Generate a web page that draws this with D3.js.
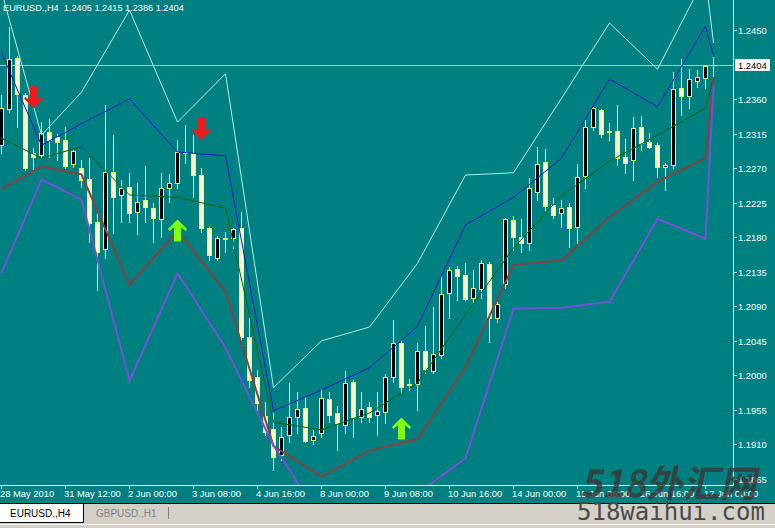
<!DOCTYPE html>
<html><head><meta charset="utf-8">
<script src="https://cdn.jsdelivr.net/npm/d3@7"></script>
<style>
html,body{margin:0;padding:0;background:#008080;overflow:hidden;}
svg{display:block;}
text{font-family:"Liberation Sans",Arial,sans-serif;}
</style></head><body>
<svg id="c" width="775" height="528"></svg>
<script>
// ---------------- data ----------------
const symbol = "EURUSD.,H4";
const otherTab = "GBPUSD.,H1";
const lastQuote = ["1.2405", "1.2415", "1.2386", "1.2404"];
const bidPrice = 1.2404;

const open = [1.2300,1.2347,1.2413,1.2365,1.2290,1.2287,1.2317,1.2311,1.2307,1.2275,
 1.2270,1.2256,1.2200,1.2165,1.2265,1.2235,1.2246,1.2213,1.2229,1.2218,
 1.2204,1.2244,1.2251,1.2291,1.2290,1.2261,1.2192,1.2153,1.2179,1.2179,
 1.2192,1.2050,1.1998,1.1947,1.1930,1.1896,1.1922,1.1946,1.1958,1.1916,
 1.1925,1.1969,1.1951,1.1935,1.1991,1.1946,1.1959,1.1948,1.1952,1.1998,
 1.2042,1.1989,1.1989,1.2032,1.2006,1.2027,1.2107,1.2139,1.2131,1.2101,
 1.2113,1.2145,1.2075,1.2119,1.2203,1.2180,1.2173,1.2239,1.2278,1.2222,
 1.2212,1.2219,1.2193,1.2260,1.2324,1.2346,1.2318,1.2318,1.2285,1.2281,
 1.2324,1.2304,1.2300,1.2272,1.2274,1.2374,1.2364,1.2384,1.2388,1.2405];
const high = [1.2365,1.2454,1.2416,1.2368,1.2296,1.2330,1.2334,1.2315,1.2324,1.2294,
 1.2281,1.2283,1.2213,1.2352,1.2313,1.2255,1.2264,1.2251,1.2273,1.2225,
 1.2264,1.2262,1.2307,1.2326,1.2313,1.2270,1.2193,1.2182,1.2187,1.2192,
 1.2213,1.2075,1.2007,1.1965,1.1951,1.1933,1.1990,1.1978,1.1972,1.1929,
 1.1982,1.1978,1.1960,1.2006,1.1994,1.1978,1.1965,1.1978,1.2002,1.2072,
 1.2046,1.1995,1.2042,1.2064,1.2089,1.2131,1.2141,1.2143,1.2146,1.2137,
 1.2150,1.2148,1.2096,1.2205,1.2208,1.2204,1.2257,1.2298,1.2295,1.2231,
 1.2229,1.2225,1.2275,1.2333,1.2350,1.2347,1.2329,1.2352,1.2308,1.2337,
 1.2338,1.2316,1.2303,1.2277,1.2395,1.2412,1.2399,1.2398,1.2404,1.2415];
const low = [1.2290,1.2343,1.2324,1.2268,1.2268,1.2285,1.2285,1.2281,1.2270,1.2272,
 1.2246,1.2174,1.2111,1.2153,1.2186,1.2200,1.2200,1.2184,1.2200,1.2174,
 1.2180,1.2226,1.2244,1.2277,1.2232,1.2187,1.2150,1.2150,1.2161,1.2166,
 1.2040,1.1985,1.1951,1.1922,1.1877,1.1890,1.1913,1.1925,1.1913,1.1911,
 1.1920,1.1939,1.1903,1.1925,1.1920,1.1939,1.1939,1.1922,1.1938,1.1991,
 1.1977,1.1981,1.1955,1.2003,1.2003,1.2023,1.2075,1.2098,1.2098,1.2094,
 1.2101,1.2044,1.2070,1.2114,1.2163,1.2161,1.2163,1.2229,1.2216,1.2205,
 1.2193,1.2167,1.2173,1.2244,1.2320,1.2311,1.2307,1.2274,1.2264,1.2255,
 1.2294,1.2296,1.2259,1.2242,1.2270,1.2339,1.2348,1.2376,1.2374,1.2386];
const close = [1.2348,1.2412,1.2367,1.2270,1.2285,1.2316,1.2307,1.2304,1.2273,1.2292,
 1.2255,1.2199,1.2161,1.2265,1.2232,1.2244,1.2212,1.2226,1.2219,1.2205,
 1.2244,1.2251,1.2291,1.2290,1.2261,1.2192,1.2157,1.2179,1.2178,1.2191,
 1.2050,1.1994,1.1964,1.1926,1.1894,1.1920,1.1946,1.1956,1.1915,1.1921,
 1.1971,1.1948,1.1938,1.1990,1.1946,1.1956,1.1946,1.1954,1.1998,1.2042,
 1.1985,1.1988,1.2032,1.2008,1.2028,1.2106,1.2137,1.2130,1.2100,1.2114,
 1.2146,1.2075,1.2093,1.2204,1.2180,1.2173,1.2244,1.2275,1.2221,1.2209,
 1.2218,1.2192,1.2259,1.2324,1.2348,1.2315,1.2317,1.2283,1.2277,1.2322,
 1.2303,1.2298,1.2272,1.2274,1.2373,1.2364,1.2386,1.2389,1.2403,1.2404];

// daily level lines (vertices at day boundaries)
const levelBars = [0,5,10,16,22,28,34,40,46,52,58,64,70,76,82,88,89];
const levelR2  = [1.2500,1.2313,1.2369,1.2476,1.2330,1.2393,1.1984,1.2045,1.2063,1.2146,1.2261,1.2264,1.2361,1.2459,1.2399,1.2520,1.2433];
const levelR1  = [1.2420,1.2300,1.2328,1.2360,1.2291,1.2286,1.1954,1.1981,1.2010,1.2064,1.2196,1.2232,1.2283,1.2386,1.2350,1.2455,1.2417];
const levelMid = [1.2309,1.2283,1.2298,1.2235,1.2232,1.2218,1.1939,1.1929,1.1951,1.1990,1.2079,1.2166,1.2234,1.2279,1.2313,1.2348,1.2388];
const levelS1  = [1.2243,1.2272,1.2262,1.2118,1.2188,1.2109,1.1908,1.1868,1.1902,1.1917,1.2011,1.2144,1.2150,1.2206,1.2252,1.2283,1.2389];
const levelS2  = [1.2133,1.2255,1.2229,1.1993,1.2133,1.2036,1.1909,1.1812,1.1818,1.1846,1.1892,1.2087,1.2088,1.2096,1.2204,1.2178,1.2378];

// signal arrows (bar index, price at arrow tip)
const sellBars = [4, 25];
const sellPrices = [1.2348, 1.2307];
const buyBars = [22, 50];
const buyPrices = [1.2203, 1.1945];

const priceTicks = [1.2450,1.2360,1.2315,1.2270,1.2225,1.2180,1.2135,1.2090,1.2045,1.2000,1.1955,1.1910,1.1865];
const timeTickBars = [0,8,16,24,32,40,48,56,64,72,80,88];
const timeTickLabels = ["28 May 2010","31 May 12:00","2 Jun 00:00","3 Jun 08:00","4 Jun 16:00","8 Jun 00:00",
  "9 Jun 08:00","10 Jun 16:00","14 Jun 00:00","15 Jun 08:00","16 Jun 16:00","17 Jun 00:00"];

// ---------------- drawing ----------------
const W = 775, H = 528, plotR = 733, plotB = 485;
const svg = d3.select("#c");
const x = d3.scaleLinear().domain([0, 89]).range([1.5, 713.5]);
const y = d3.scaleLinear().domain([1.1865, 1.2450]).range([479, 30]);

svg.append("rect").attr("width", W).attr("height", H).attr("fill", "#008080");
svg.append("defs").append("clipPath").attr("id", "plot")
  .append("rect").attr("x", 0).attr("y", 0).attr("width", plotR).attr("height", plotB);

const g = svg.append("g").attr("clip-path", "url(#plot)");

// bid line
g.append("line").attr("x1", 0).attr("x2", plotR)
  .attr("y1", Math.round(y(bidPrice)) + 0.5).attr("y2", Math.round(y(bidPrice)) + 0.5)
  .attr("stroke", "#a9c3c3").attr("stroke-width", 1);

// candles
const wickCol = "#e8fa58";
const bars = d3.range(open.length).map(i => ({i, o: open[i], h: high[i], l: low[i], c: close[i]}));
const cg = g.append("g").attr("shape-rendering", "crispEdges");
bars.forEach(b => {
  const cx = x(b.i);
  cg.append("line").attr("x1", cx).attr("x2", cx)
    .attr("y1", Math.round(y(b.h))).attr("y2", Math.round(y(b.l)) + 1)
    .attr("stroke", wickCol).attr("stroke-width", 1);
  const yt = Math.round(y(Math.max(b.o, b.c))) + 0.5;
  const yb = Math.round(y(Math.min(b.o, b.c))) + 0.5;
  if (yb - yt < 1) {
    cg.append("line").attr("x1", cx - 2.5).attr("x2", cx + 3.5)
      .attr("y1", yt).attr("y2", yt).attr("stroke", wickCol).attr("stroke-width", 1);
  } else {
    cg.append("rect").attr("x", cx - 2).attr("y", yt).attr("width", 4).attr("height", yb - yt)
      .attr("fill", b.c >= b.o ? "#000000" : "#ffffc4")
      .attr("stroke", wickCol).attr("stroke-width", 1);
  }
});

// level lines
const lineGen = d3.line().x(d => x(d[0])).y(d => y(d[1]));
const levels = [
  {v: levelMid, color: "#006400", w: 1},
  {v: levelS1, color: "#854240", w: 2},
  {v: levelS2, color: "#7452d4", w: 2},
  {v: levelR1, color: "#0b16c4", w: 1},
  {v: levelR2, color: "#b0eeee", w: 1}
];
levels.forEach(L => {
  g.append("path").datum(levelBars.map((b, k) => [b, L.v[k]]))
    .attr("d", lineGen).attr("fill", "none")
    .attr("stroke", L.color).attr("stroke-width", L.w).attr("stroke-linejoin", "miter");
});

// arrows
function arrowPts(cx, ty, dir) { // dir=1 down (tip at bottom), -1 up (tip at top)
  const p = [[0,0],[9.5,-9.5],[8,-11.5],[3.5,-7.5],[3.5,-22],[-3.5,-22],[-3.5,-7.5],[-8,-11.5],[-9.5,-9.5]];
  return p.map(([dx, dy]) => [cx + dx, ty + dy * dir].join(",")).join(" ");
}
sellBars.forEach((b, k) => {
  g.append("polygon").attr("points", arrowPts(x(b), y(sellPrices[k]), 1)).attr("fill", "#f01a1a");
});
buyBars.forEach((b, k) => {
  g.append("polygon").attr("points", arrowPts(x(b), y(buyPrices[k]), -1)).attr("fill", "#80ff10");
});

// header
svg.append("text").attr("x", 3).attr("y", 10.5).attr("fill", "#ffffff")
  .style("font-size", "9.2px").attr("xml:space", "preserve")
  .text(symbol + "  " + lastQuote.join(" "));

// axes
svg.append("line").attr("x1", plotR + 0.5).attr("x2", plotR + 0.5).attr("y1", 0).attr("y2", plotB + 1)
  .attr("stroke", "#ffffff");
svg.append("line").attr("x1", 0).attr("x2", plotR + 1).attr("y1", plotB + 0.5).attr("y2", plotB + 0.5)
  .attr("stroke", "#ffffff");

priceTicks.forEach(p => {
  const yy = Math.round(y(p)) + 0.5;
  svg.append("line").attr("x1", plotR).attr("x2", plotR + 4).attr("y1", yy).attr("y2", yy).attr("stroke", "#ffffff");
  svg.append("text").attr("x", 738).attr("y", yy + 3.4).attr("fill", "#ffffff")
    .style("font-size", "9.4px").text(p.toFixed(4));
});

timeTickBars.forEach((b, k) => {
  const xx = Math.round(x(b) - 0.5) + 0.5;
  svg.append("line").attr("x1", xx).attr("x2", xx).attr("y1", plotB).attr("y2", plotB + 4).attr("stroke", "#ffffff");
  svg.append("text").attr("x", xx - 1.5).attr("y", 497).attr("fill", "#ffffff")
    .style("font-size", "9.4px").text(timeTickLabels[k]);
});

// bid price label
const by = Math.round(y(bidPrice));
svg.append("rect").attr("x", 735).attr("y", by - 6).attr("width", 35).attr("height", 12).attr("fill", "#ffffff");
svg.append("text").attr("x", 738).attr("y", by + 3.6).attr("fill", "#000000")
  .style("font-size", "9.4px").text(bidPrice.toFixed(4));

// tab bar
svg.append("rect").attr("x", 0).attr("y", 504).attr("width", W).attr("height", 24).attr("fill", "#d4d0c8");
svg.append("line").attr("x1", 0).attr("x2", W).attr("y1", 503.5).attr("y2", 503.5).attr("stroke", "#000000");
svg.append("line").attr("x1", 0).attr("x2", W).attr("y1", 524.5).attr("y2", 524.5).attr("stroke", "#f0f0f0");
svg.append("rect").attr("x", 0).attr("y", 504).attr("width", 83).attr("height", 19).attr("fill", "#ffffff");
svg.append("path").attr("d", "M83.5,504 V522.5 H0").attr("fill", "none").attr("stroke", "#000000");
svg.append("text").attr("x", 10).attr("y", 517).attr("fill", "#000000").style("font-size", "10px").text(symbol);
svg.append("text").attr("x", 96).attr("y", 517).attr("fill", "#808080").style("font-size", "10px").text(otherTab);
svg.append("line").attr("x1", 168.5).attr("x2", 168.5).attr("y1", 507).attr("y2", 519).attr("stroke", "#808080");

// watermark
svg.append("text").attr("x", 582).attr("y", 497)
  .attr("transform", "skewX(-12) translate(104,0)")
  .attr("fill", "#3e3434").attr("fill-opacity", 0.8)
  .style("font-family", "'Noto Sans CJK SC', sans-serif").style("font-size", "37px").style("font-weight", "bold")
  .text("518外汇网");
svg.append("text").attr("x", 577).attr("y", 520).attr("fill", "#4a4a4a")
  .style("font-family", "'DejaVu Sans Mono', monospace").style("font-size", "24px")
  .text("518waihui.com");
</script>
</body></html>
